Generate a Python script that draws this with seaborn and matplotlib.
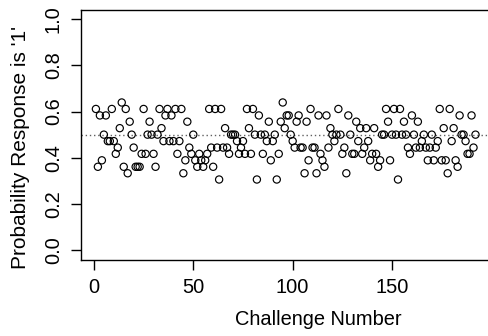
import numpy as np
import pandas as pd
import matplotlib
matplotlib.use("Agg")
import matplotlib.pyplot as plt
import seaborn as sns

# Probability that the response is '1', per challenge
probabilities = [
    0.611, 0.361, 0.583, 0.389, 0.5, 0.583, 0.472, 0.472, 0.611, 0.472, 0.417, 0.444,
    0.528, 0.639, 0.361, 0.611, 0.333, 0.556, 0.5, 0.444, 0.361, 0.361, 0.361,
    0.417, 0.611, 0.417, 0.5, 0.556, 0.5, 0.417, 0.361, 0.5, 0.611, 0.528, 0.472,
    0.583, 0.611, 0.472, 0.583, 0.472, 0.611, 0.417, 0.472, 0.611, 0.333, 0.389,
    0.556, 0.444, 0.417, 0.5, 0.389, 0.361, 0.417, 0.389, 0.361, 0.389, 0.417, 0.611,
    0.444, 0.361, 0.611, 0.444, 0.306, 0.611, 0.444, 0.528, 0.444, 0.417, 0.5, 0.5,
    0.5, 0.472,
    0.417, 0.444, 0.472, 0.417, 0.611, 0.528, 0.417, 0.611, 0.5, 0.306, 0.583, 0.5,
    0.417, 0.5, 0.472, 0.556, 0.389, 0.472, 0.5, 0.306, 0.417, 0.556, 0.639, 0.528,
    0.583, 0.583, 0.5, 0.472,
    0.444, 0.556, 0.583, 0.444, 0.444, 0.333, 0.556, 0.389, 0.611, 0.444, 0.444, 0.333,
    0.583, 0.417, 0.389, 0.361, 0.583, 0.444, 0.528, 0.5, 0.472, 0.5, 0.611, 0.5, 0.417,
    0.444, 0.333, 0.583, 0.5, 0.417, 0.417, 0.556, 0.472, 0.528, 0.417, 0.444, 0.528,
    0.472, 0.389, 0.417, 0.528, 0.417, 0.361, 0.389, 0.5, 0.5,
    0.611, 0.556, 0.389, 0.5, 0.611, 0.5, 0.306, 0.611, 0.5, 0.556, 0.5, 0.444, 0.417,
    0.583, 0.5, 0.444, 0.556, 0.444, 0.472, 0.5, 0.444, 0.389, 0.444, 0.5, 0.389, 0.444,
    0.472, 0.611, 0.389, 0.528, 0.389, 0.333, 0.611, 0.472, 0.528, 0.389, 0.361, 0.583,
    0.5, 0.5, 0.472, 0.417, 0.417, 0.583, 0.444, 0.5,
]
challenges = list(range(1, len(probabilities) + 1))
reference_level = 0.5

x_ticks = [0, 50, 100, 150]
y_ticks = [0.0, 0.2, 0.4, 0.6, 0.8, 1.0]
y_tick_labels = ["0.0", "0.2", "0.4", "0.6", "0.8", "1.0"]

df = pd.DataFrame({"challenge": challenges, "prob": probabilities})

sns.set_style("ticks")
plt.rcParams["font.family"] = ["Liberation Sans", "DejaVu Sans"]

fig = plt.figure(figsize=(4.89, 3.36), dpi=100)
ax = fig.add_axes([81 / 489, 1 - 260 / 336, (555 - 81) / 489, (260 - 9.5) / 336])

ax.axhline(reference_level, color="#606060", lw=1.0, ls=(0, (1, 2)), zorder=1)
sns.scatterplot(data=df, x="challenge", y="prob", ax=ax, marker="o",
                facecolors="none", edgecolor="black", s=27, linewidth=0.85, zorder=3)

ax.set_xlim(-6.5, 232)
ax.set_ylim(-0.042, 1.041)
ax.set_xticks(x_ticks)
ax.set_xticklabels([str(t) for t in x_ticks])
ax.set_yticks(y_ticks)
ax.set_yticklabels(y_tick_labels, rotation=90, va="center")

for sp in ax.spines.values():
    sp.set_visible(True)
    sp.set_color("black")
    sp.set_linewidth(1.0)

ax.tick_params(axis="both", direction="out", length=7, width=1.0, color="black",
               labelsize=14.4, pad=6, labelcolor="black")

ax.set_xlabel("Challenge Number", fontsize=14.4, color="black", va="center")
ax.set_ylabel("Probability Response is '1'", fontsize=15, color="black", va="center")
ax.xaxis.set_label_coords(0.5, -0.2395)
ax.yaxis.set_label_coords((21 - 81) / 474, 0.451)

fig.savefig("out.png", dpi=100, facecolor="white")
